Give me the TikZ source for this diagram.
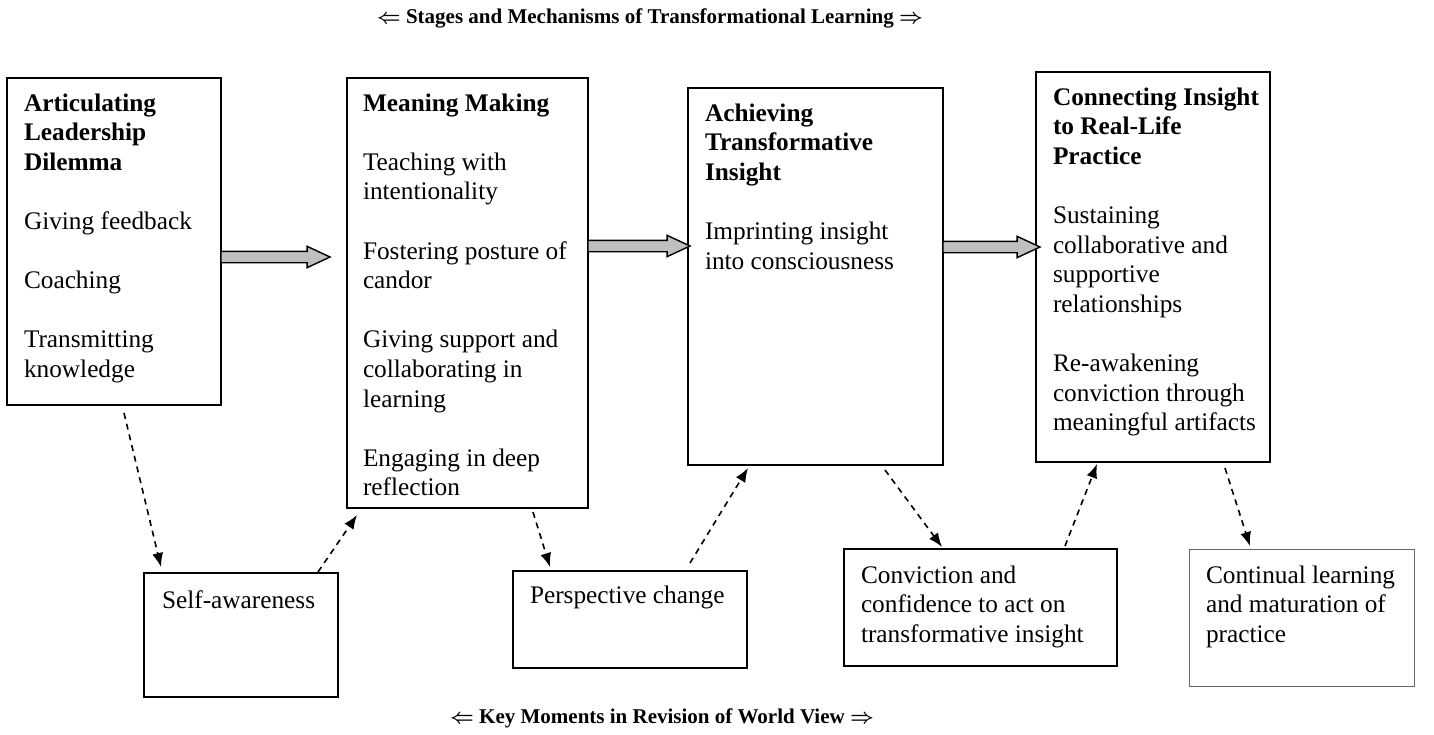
\documentclass[tikz,border=0pt]{standalone}
\usepackage{fontspec}
\setmainfont{Liberation Serif}
\usetikzlibrary{calc,arrows.meta,shapes.arrows}
\begin{document}
\begin{tikzpicture}[x=1pt,y=-1pt,
  box/.style={draw=black,line width=1.4pt,inner sep=0pt,outer sep=0pt,anchor=north west},
  thinbox/.style={draw=black!60,line width=0.8pt,inner sep=0pt,outer sep=0pt,anchor=north west},
  txt/.style={anchor=north west,inner sep=0pt,outer sep=0pt,align=left,font=\fontsize{25.3}{29.6}\selectfont},
  ttl/.style={inner sep=0pt,font=\bfseries\boldmath\fontsize{21}{24}\selectfont},
  blockarrow/.style={single arrow,draw=black,line width=1.4pt,fill=black!25,inner sep=5pt,
    single arrow head extend=5pt,single arrow tip angle=50,anchor=tail,outer sep=0pt},
  dashar/.style={line width=1.6pt,dash pattern=on 6pt off 5pt,-{Latex[length=14pt,width=11pt]}}]
\useasboundingbox (0,0) rectangle (1434,734);
\newcommand{\fl}{\rule{0pt}{21pt}}
\newcommand{\pg}{\\[29.6pt]}

% titles
\node[ttl] (T1) at (650,18) {$\Leftarrow$ Stages and Mechanisms of Transformational Learning $\Rightarrow$};
\node[ttl] (T2) at (662,718) {$\Leftarrow$ Key Moments in Revision of World View $\Rightarrow$};

% stage boxes
\node[box,minimum width=214pt,minimum height=327pt] (A) at (7,78) {};
\node[box,minimum width=241pt,minimum height=430pt] (B) at (347,78) {};
\node[box,minimum width=255pt,minimum height=377pt] (C) at (688,88) {};
\node[box,minimum width=234pt,minimum height=390pt] (D) at (1036,72) {};

\node[txt] (At) at ($(A.north west)+(17,12)$) {\fl\textbf{Articulating}\\\textbf{Leadership}\\\textbf{Dilemma}\pg Giving feedback\pg Coaching\pg Transmitting\\knowledge};
\node[txt] (Bt) at ($(B.north west)+(16,12)$) {\fl\textbf{Meaning Making}\pg Teaching with\\intentionality\pg Fostering posture of\\candor\pg Giving support and\\collaborating in\\learning\pg Engaging in deep\\reflection};
\node[txt] (Ct) at ($(C.north west)+(17,12)$) {\fl\textbf{Achieving}\\\textbf{Transformative}\\\textbf{Insight}\pg Imprinting insight\\into consciousness};
\node[txt] (Dt) at ($(D.north west)+(17,12)$) {\fl\textbf{Connecting Insight}\\\textbf{to Real-Life}\\\textbf{Practice}\pg Sustaining\\collaborative and\\supportive\\relationships\pg Re-awakening\\conviction through\\meaningful artifacts};

% moment boxes
\node[box,minimum width=194pt,minimum height=124pt] (S1) at (144,573) {};
\node[box,minimum width=234pt,minimum height=97pt] (S2) at (513,571) {};
\node[box,minimum width=273pt,minimum height=117pt] (S3) at (844,549) {};
\node[thinbox,minimum width=225pt,minimum height=137pt] (S4) at (1189,549) {};

\node[txt] (S1t) at ($(S1.north west)+(18,14)$) {\fl Self-awareness};
\node[txt] (S2t) at ($(S2.north west)+(17,11)$) {\fl Perspective change};
\node[txt] (S3t) at ($(S3.north west)+(17,13)$) {\fl Conviction and\\confidence to act on\\transformative insight};
\node[txt] (S4t) at ($(S4.north west)+(17,13)$) {\fl Continual learning\\and maturation of\\practice};

% block arrows between stages
\node[blockarrow,minimum height=109pt] (AB) at ($(A.north east)+(0,179)$) {};
\node[blockarrow,minimum height=102pt] (BC) at ($(B.north east)+(0,168)$) {};
\node[blockarrow,minimum height=97pt] (CD) at ($(C.north east)+(0,159)$) {};

% dashed connectors
\coordinate (d1a) at ($(A.south west)+(117,8)$);
\coordinate (d1b) at ($(S1.north west)+(17,-6)$);
\coordinate (d2a) at ($(S1.north west)+(174,-1)$);
\coordinate (d2b) at ($(B.south west)+(10,7)$);
\coordinate (d3a) at ($(B.south west)+(186,4)$);
\coordinate (d3b) at ($(S2.north west)+(37,-4)$);
\coordinate (d4a) at ($(S2.north west)+(177,-8)$);
\coordinate (d4b) at ($(C.south west)+(60,3)$);
\coordinate (d5a) at ($(C.south west)+(197,5)$);
\coordinate (d5b) at ($(S3.north west)+(98,-2)$);
\coordinate (d6a) at ($(S3.north west)+(221,-3)$);
\coordinate (d6b) at ($(D.south west)+(61,2)$);
\coordinate (d7a) at ($(D.south west)+(189,6)$);
\coordinate (d7b) at ($(S4.north west)+(61,-3)$);
\draw[dashar] (d1a) -- (d1b);
\draw[dashar] (d2a) -- (d2b);
\draw[dashar] (d3a) -- (d3b);
\draw[dashar] (d4a) -- (d4b);
\draw[dashar] (d5a) -- (d5b);
\draw[dashar] (d6a) -- (d6b);
\draw[dashar] (d7a) -- (d7b);
\end{tikzpicture}
\end{document}
